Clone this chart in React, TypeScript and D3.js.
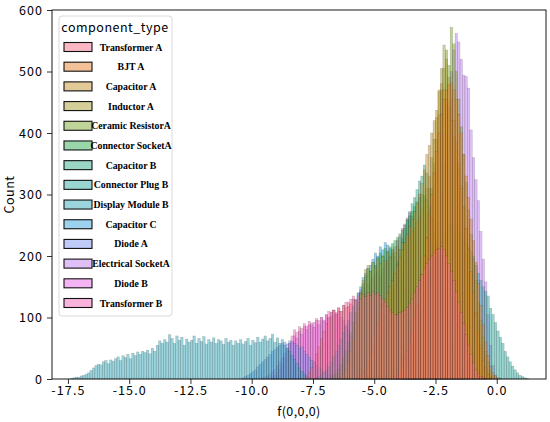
import { useEffect, useRef } from 'react';
import * as d3 from 'd3';

const binWidth = 0.1;

const components = [
  'Transformer A', 'BJT A', 'Capacitor A', 'Inductor A', 'Ceramic ResistorA',
  'Connector SocketA', 'Capacitor B', 'Connector Plug B', 'Display Module B',
  'Capacitor C', 'Diode A', 'Electrical SocketA', 'Diode B', 'Transformer B',
];

const palette = [
  '#f77189', '#e68332', '#c69432', '#a99f31', '#7faa31', '#34af57', '#34af89',
  '#36ada4', '#37aabc', '#3aa5dd', '#7f97f4', '#c27ff4', '#ea69e8', '#f66ab8',
];

// left edge of the first bin of each series
const seriesStart = [-7.8, -4.2, -5.6, -6.4, -3.9, -6.8, -5.4, -4.0, -17.4, -7.4, -10.4, -3.5, -9.6, -9.2];

const transformerA = [
  5, 10, 18, 28, 40, 52, 65, 78, 90, 100,
  108, 112, 105, 115, 110, 120, 116, 125, 122, 130,
  128, 135, 130, 138, 134, 140, 136, 142, 138, 140,
  136, 130, 125, 118, 112, 108, 105, 104, 108, 110,
  112, 116, 122, 130, 140, 150, 160, 170, 180, 188,
  195, 200, 205, 210, 212, 215, 210, 200, 188, 175,
  160, 142, 125, 108, 90, 72, 55, 40, 26, 15,
  8, 4, 2, 1,
];
const bjtA = [
  4, 8, 14, 22, 32, 45, 60, 78, 98, 120,
  145, 170, 200, 230, 265, 300, 335, 370, 400, 430,
  455, 470, 478, 481, 470, 455, 430, 400, 365, 330,
  295, 260, 225, 190, 155, 120, 88, 60, 38, 20,
  10, 5, 2, 1,
];
const capacitorA = [
  5, 10, 18, 28, 40, 55, 70, 88, 105, 120,
  130, 140, 150, 160, 172, 185, 198, 210, 222, 235,
  248, 260, 272, 285, 300, 318, 340, 365, 380, 400,
  420, 437, 467, 480, 470, 455, 440, 420, 395, 370,
  340, 310, 280, 245, 210, 175, 140, 105, 75, 50,
  30, 16, 7, 2,
];
const inductorA = [
  3, 8, 15, 28, 45, 65, 90, 115, 140, 160,
  178, 185, 175, 190, 182, 195, 188, 200, 192, 205,
  198, 210, 205, 215, 210, 222, 218, 230, 228, 240,
  245, 255, 262, 275, 290, 310, 330, 360, 390, 425,
  470, 505, 543, 520, 490, 455, 420, 385, 350, 315,
  280, 245, 210, 175, 140, 108, 80, 55, 35, 18,
  8, 3,
];
const ceramicResistorA = [
  5, 10, 18, 30, 45, 65, 90, 120, 155, 190,
  230, 270, 310, 350, 390, 430, 470, 505, 535, 510,
  572, 545, 500, 455, 410, 365, 320, 275, 235, 195,
  160, 125, 95, 68, 45, 28, 14, 5,
];
const connectorSocketA = [
  3, 6, 10, 16, 24, 34, 46, 60, 75, 92,
  108, 125, 140, 155, 168, 180, 175, 190, 185, 198,
  205, 200, 212, 208, 215, 220, 225, 230, 236, 242,
  250, 258, 265, 272, 280, 288, 295, 300, 298, 292,
  280, 262, 240, 218, 195, 172, 148, 124, 100, 78,
  58, 42, 28, 18, 10, 5, 2,
];
const capacitorB = [
  3, 6, 12, 20, 30, 42, 56, 72, 90, 110,
  130, 150, 170, 190, 210, 228, 245, 260, 272, 285,
  295, 308, 322, 330, 348, 335, 310, 285, 258, 230,
  200, 170, 140, 112, 86, 62, 42, 27, 15, 7,
  3, 1,
];
const connectorPlugB = [
  4, 8, 14, 22, 32, 44, 58, 74, 92, 110,
  128, 146, 164, 180, 195, 208, 220, 230, 238, 245,
  250, 252, 250, 246, 240, 235, 228, 222, 215, 208,
  200, 185, 172, 160, 150, 142, 135, 115, 105, 92,
  78, 68, 58, 45, 36, 28, 21, 15, 10, 6,
  4, 2, 1,
];
const displayModuleB = [
  1, 2, 3, 3, 5, 6, 8, 10, 14,
  18, 22, 24, 23, 28, 30, 25, 31, 29, 33,
  36, 30, 38, 35, 40, 33, 42, 38, 44, 40,
  45, 43, 47, 41, 50, 45, 55, 62, 58, 64,
  60, 72, 66, 58, 70, 63, 68, 55, 65, 60,
  63, 70, 58, 66, 61, 69, 57, 64, 60, 67,
  58, 64, 62, 56, 66, 60, 63, 55, 62, 58,
  64, 57, 61, 66, 55, 63, 59, 68, 60, 65,
  70, 62, 66, 73, 60, 67, 58, 64, 55, 50,
  45, 38, 32, 25, 18, 12, 8, 4, 2,
];
const capacitorC = [
  2, 4, 7, 10, 15, 20, 28, 36, 45, 55,
  65, 76, 85, 95, 108, 118, 130, 140, 150, 165,
  172, 180, 185, 195, 205, 200, 215, 210, 222, 218,
  212, 205, 200, 190, 180, 165, 150, 130, 110, 85,
  62, 42, 26, 14, 6, 2,
];
const diodeA = [
  2, 4, 6, 9, 12, 15, 20, 24, 28, 32,
  36, 40, 45, 48, 52, 55, 58, 60, 57, 62,
  60, 58, 55, 50, 52, 45, 40, 35, 30, 26,
  22, 18, 15, 12, 10, 8, 6, 4, 3, 2,
];
const electricalSocketA = [
  5, 10, 18, 28, 40, 58, 80, 105, 135, 170,
  210, 255, 300, 350, 400, 450, 500, 535, 562, 548,
  520, 494, 492, 473, 405, 360, 324, 290, 240, 195,
  158, 105, 55, 22, 6,
];
const diodeB = [
  2, 3, 5, 8, 12, 16, 22, 28, 35, 42,
  50, 58, 62, 70, 66, 78, 72, 85, 80, 88,
  91, 84, 95, 88, 100, 94, 104, 98, 108, 112,
  105, 110, 100, 95, 88, 80, 70, 58, 45, 32,
  22, 15, 10, 6, 3, 1,
];
const transformerB = [
  3, 6, 10, 16, 24, 34, 46, 58, 70, 80,
  76, 85, 82, 90, 86, 94, 88, 92, 98, 95,
  100, 96, 105, 110, 102, 112, 108, 116, 110, 120,
  125, 118, 130, 135, 128, 140, 145, 150, 142, 155,
  160, 165, 170, 175, 168, 180, 190, 195, 200, 210,
  215, 225, 232, 245, 252, 262, 270, 265, 240, 150,
];

const seriesCounts = [
  transformerA, bjtA, capacitorA, inductorA, ceramicResistorA, connectorSocketA,
  capacitorB, connectorPlugB, displayModuleB, capacitorC, diodeA, electricalSocketA,
  diodeB, transformerB,
];

const xTicks = [-17.5, -15, -12.5, -10, -7.5, -5, -2.5, 0];
const yTicks = [0, 100, 200, 300, 400, 500, 600];

const hei = "'Noto Sans CJK SC', 'DejaVu Sans', sans-serif";

export default function App() {
  const svgRef = useRef<SVGSVGElement>(null);

  useEffect(() => {
    if (!svgRef.current) return;
    const width = 550;
    const height = 422;
    const left = 52, right = 546, top = 10, bottom = 379;

    const svg = d3.select(svgRef.current);
    svg.selectAll('*').remove();
    svg.attr('width', width).attr('height', height);

    const x = d3.scaleLinear().domain([-18.15, 2.01]).range([left, right]);
    const y = d3.scaleLinear().domain([0, 600]).range([bottom, top]);

    svg.append('rect').attr('width', width).attr('height', height).attr('fill', '#fff');

    // bars: first hue ends up on top
    const barsG = svg.append('g');
    for (let s = seriesCounts.length - 1; s >= 0; s--) {
      const rows = seriesCounts[s].map((c, i) => ({ x0: seriesStart[s] + i * binWidth, c }));
      barsG.append('g')
        .selectAll('rect')
        .data(rows.filter((d) => d.c > 0))
        .join('rect')
        .attr('x', (d) => x(d.x0))
        .attr('width', (d) => x(d.x0 + binWidth) - x(d.x0))
        .attr('y', (d) => y(d.c))
        .attr('height', (d) => y(0) - y(d.c))
        .attr('fill', palette[s])
        .attr('fill-opacity', 0.5)
        .attr('stroke', '#000')
        .attr('stroke-opacity', 0.22)
        .attr('stroke-width', 0.5);
    }

    const styleAxis = (gg: d3.Selection<SVGGElement, unknown, null, undefined>) => {
      gg.select('.domain').remove();
      gg.selectAll('.tick line').attr('stroke', '#000').attr('stroke-width', 0.8);
      gg.selectAll('.tick text')
        .attr('fill', '#000')
        .attr('font-family', hei)
        .attr('font-size', 12.5)
        .attr('letter-spacing', 1.1);
    };

    svg.append('g')
      .attr('transform', `translate(0,${bottom})`)
      .call(d3.axisBottom(x).tickValues(xTicks).tickSize(5).tickPadding(2).tickFormat((d) => (d as number).toFixed(1)))
      .call(styleAxis);

    svg.append('g')
      .attr('transform', `translate(${left},0)`)
      .call(d3.axisLeft(y).tickValues(yTicks).tickSize(5).tickPadding(4).tickFormat((d) => String(d)))
      .call(styleAxis);

    // spines
    svg.append('rect')
      .attr('x', left).attr('y', top)
      .attr('width', right - left).attr('height', bottom - top)
      .attr('fill', 'none').attr('stroke', '#000').attr('stroke-width', 0.9);

    svg.append('text')
      .attr('x', (left + right) / 2).attr('y', 416)
      .attr('text-anchor', 'middle')
      .attr('font-family', hei).attr('font-size', 12.5)
      .attr('letter-spacing', 0.4)
      .text('f(0,0,0)');

    svg.append('text')
      .attr('transform', `translate(14,${(top + bottom) / 2}) rotate(-90)`)
      .attr('text-anchor', 'middle')
      .attr('font-family', hei).attr('font-size', 12.5)
      .attr('letter-spacing', 0.5)
      .text('Count');

    // legend
    const lg = svg.append('g');
    lg.append('rect')
      .attr('x', 59).attr('y', 16).attr('width', 113).attr('height', 300).attr('rx', 3)
      .attr('fill', '#fff').attr('fill-opacity', 0.8)
      .attr('stroke', '#d0d0d0').attr('stroke-width', 0.8);
    lg.append('text')
      .attr('x', 115).attr('y', 32)
      .attr('text-anchor', 'middle')
      .attr('font-family', hei).attr('font-size', 12.5)
      .attr('letter-spacing', 0.5)
      .text('component_type');

    const ly = d3.scaleLinear().domain([0, components.length - 1]).range([47, 303]);
    const items = lg.selectAll('g.item').data(components).join('g').attr('class', 'item')
      .attr('transform', (_, i) => `translate(0,${ly(i)})`);
    items.append('rect')
      .attr('x', 64).attr('y', -4.5).attr('width', 28).attr('height', 9)
      .attr('fill', (_, i) => palette[i]).attr('fill-opacity', 0.5)
      .attr('stroke', '#111').attr('stroke-width', 1.1);
    items.append('text')
      .attr('x', 131).attr('y', 3.5)
      .attr('text-anchor', 'middle')
      .attr('font-family', "'Liberation Serif', 'Times New Roman', serif")
      .attr('font-weight', 'bold')
      .attr('font-size', 9.8)
      .text((d) => d);
  }, []);

  return (
    <div style={{ position: 'absolute', left: 0, top: 0 }}>
      <svg ref={svgRef} style={{ display: 'block' }} />
    </div>
  );
}
